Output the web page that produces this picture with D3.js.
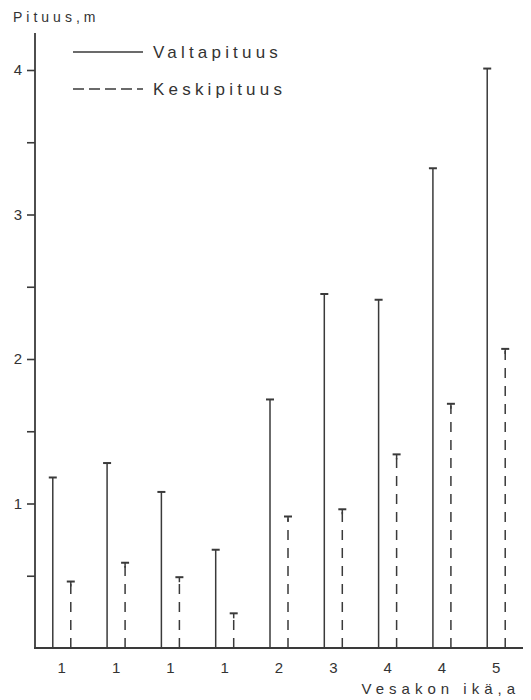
<!DOCTYPE html>
<html><head><meta charset="utf-8">
<script src="https://cdn.jsdelivr.net/npm/d3@7"></script>
<style>
body{margin:0;background:#fff;}
text{font-family:"Liberation Sans",Arial,sans-serif;fill:#333;}
</style></head>
<body><svg id="c" width="531" height="700"></svg>
<script>
const categories = ["1","1","1","1","2","3","4","4","5"];
const valtapituus = [1.18, 1.28, 1.08, 0.68, 1.72, 2.45, 2.41, 3.32, 4.01];
const keskipituus = [0.46, 0.59, 0.49, 0.24, 0.91, 0.96, 1.34, 1.69, 2.07];
const yTicks = [0.5, 1, 1.5, 2, 2.5, 3, 3.5, 4];
const yLabels = {1:"1", 2:"2", 3:"3", 4:"4"};

const svg = d3.select("#c");
const ink = "#3a3a3a";
const x0 = 35, xEnd = 523, yBase = 648;
const y = d3.scaleLinear().domain([0, 4]).range([yBase, 70]);
const x = d3.scaleBand().domain(d3.range(categories.length)).range([33, 525]).paddingInner(0).paddingOuter(0.03);

// y axis
const yAxis = d3.axisLeft(y).tickValues(yTicks).tickSize(8).tickPadding(5)
  .tickFormat(d => yLabels[d] || "");
const ga = svg.append("g").attr("transform", `translate(${x0},0)`).call(yAxis);
ga.select(".domain").remove();
ga.selectAll(".tick line").attr("stroke", ink).attr("stroke-width", 1.6);
ga.selectAll(".tick text").style("font-size", "15px").attr("fill", ink);
svg.append("line").attr("x1", x0).attr("x2", x0).attr("y1", 33).attr("y2", yBase + 1)
  .attr("stroke", ink).attr("stroke-width", 1.8);

// x axis
svg.append("line").attr("x1", x0 - 1).attr("x2", xEnd).attr("y1", yBase).attr("y2", yBase)
  .attr("stroke", ink).attr("stroke-width", 1.8);
const xAxis = d3.axisBottom(x).tickSize(0).tickPadding(14).tickFormat(i => categories[i]);
const gx = svg.append("g").attr("transform", `translate(0,${yBase})`).call(xAxis);
gx.select(".domain").remove();
gx.selectAll(".tick text").style("font-size", "15px").attr("fill", ink);

const cx = i => x(i) + x.bandwidth() / 2;
const off = 9;

// solid lines
const gs = svg.append("g");
valtapituus.forEach((v, i) => {
  const xx = cx(i) - off;
  gs.append("line").attr("x1", xx).attr("x2", xx).attr("y1", yBase).attr("y2", y(v))
    .attr("stroke", ink).attr("stroke-width", 1.5);
  gs.append("line").attr("x1", xx - 4).attr("x2", xx + 4).attr("y1", y(v)).attr("y2", y(v))
    .attr("stroke", ink).attr("stroke-width", 2);
});
// dashed lines
keskipituus.forEach((v, i) => {
  const xx = cx(i) + off;
  gs.append("line").attr("x1", xx).attr("x2", xx).attr("y1", yBase).attr("y2", y(v) + 2)
    .attr("stroke", ink).attr("stroke-width", 1.5).attr("stroke-dasharray", "10,8");
  gs.append("line").attr("x1", xx - 4).attr("x2", xx + 4).attr("y1", y(v)).attr("y2", y(v))
    .attr("stroke", ink).attr("stroke-width", 2);
  gs.append("line").attr("x1", xx).attr("x2", xx).attr("y1", y(v)).attr("y2", y(v) + 5)
    .attr("stroke", ink).attr("stroke-width", 1.5);
});

// legend
svg.append("line").attr("x1", 73).attr("x2", 143).attr("y1", 52).attr("y2", 52)
  .attr("stroke", ink).attr("stroke-width", 1.5);
svg.append("line").attr("x1", 73).attr("x2", 143).attr("y1", 89).attr("y2", 89)
  .attr("stroke", ink).attr("stroke-width", 1.5).attr("stroke-dasharray", "11,5");
svg.append("text").attr("x", 153).attr("y", 58).text("Valtapituus")
  .style("font-size", "17px").style("letter-spacing", "4.2px");
svg.append("text").attr("x", 153).attr("y", 95).text("Keskipituus")
  .style("font-size", "17px").style("letter-spacing", "4.2px");

// titles
svg.append("text").attr("x", 13).attr("y", 22).text("Pituus,m")
  .style("font-size", "14px").style("letter-spacing", "4px");
svg.append("text").attr("x", 520).attr("y", 694).attr("text-anchor", "end").text("Vesakon ikä,a")
  .style("font-size", "15px").style("letter-spacing", "5px");
</script></body></html>
